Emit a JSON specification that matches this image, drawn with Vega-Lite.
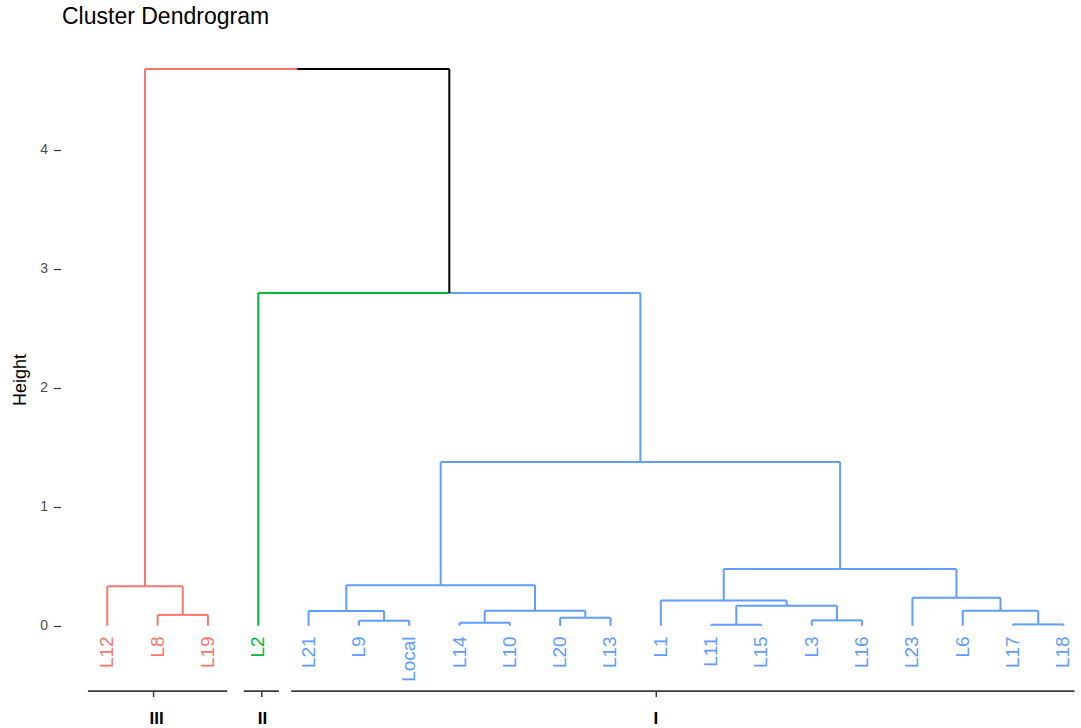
{
  "$schema": "https://vega.github.io/schema/vega-lite/v6.json",
  "autosize": "none",
  "width": 1019,
  "height": 697,
  "padding": {"left": 62, "top": 31, "right": 0, "bottom": 0},
  "background": "white",
  "title": {
    "text": "Cluster Dendrogram",
    "anchor": "start",
    "frame": "group",
    "font": "Liberation Sans",
    "fontSize": 23,
    "fontWeight": "normal",
    "color": "#000000",
    "offset": 2
  },
  "config": {
    "view": {"stroke": null},
    "text": {"font": "Liberation Sans"},
    "axisY": {
      "domain": false,
      "grid": false,
      "offset": 1.5,
      "tickSize": 7,
      "tickColor": "#333333",
      "tickWidth": 1.2,
      "labelFont": "Liberation Sans",
      "labelFontSize": 14,
      "labelColor": "#4D4D4D",
      "labelPadding": 6,
      "titleFont": "Liberation Sans",
      "titleFontSize": 18,
      "titleFontWeight": "normal",
      "titleColor": "#000000",
      "titlePadding": 10
    }
  },
  "datasets": {
    "edges": [
      {"px": 4.7734, "cx": 1.75, "ph": 4.681, "ch": 0.331, "grp": "III"},
      {"px": 1.75, "cx": 1, "ph": 0.331, "ch": 0, "grp": "III"},
      {"px": 1.75, "cx": 2.5, "ph": 0.331, "ch": 0.091, "grp": "III"},
      {"px": 2.5, "cx": 2, "ph": 0.091, "ch": 0, "grp": "III"},
      {"px": 2.5, "cx": 3, "ph": 0.091, "ch": 0, "grp": "III"},
      {"px": 4.7734, "cx": 7.7969, "ph": 4.681, "ch": 2.797, "grp": "root"},
      {"px": 7.7969, "cx": 4, "ph": 2.797, "ch": 0, "grp": "II"},
      {"px": 7.7969, "cx": 11.5938, "ph": 2.797, "ch": 1.376, "grp": "I"},
      {"px": 11.5938, "cx": 7.625, "ph": 1.376, "ch": 0.341, "grp": "I"},
      {"px": 11.5938, "cx": 15.5625, "ph": 1.376, "ch": 0.476, "grp": "I"},
      {"px": 7.625, "cx": 5.75, "ph": 0.341, "ch": 0.123, "grp": "I"},
      {"px": 7.625, "cx": 9.5, "ph": 0.341, "ch": 0.125, "grp": "I"},
      {"px": 5.75, "cx": 5, "ph": 0.123, "ch": 0, "grp": "I"},
      {"px": 5.75, "cx": 6.5, "ph": 0.123, "ch": 0.042, "grp": "I"},
      {"px": 6.5, "cx": 6, "ph": 0.042, "ch": 0, "grp": "I"},
      {"px": 6.5, "cx": 7, "ph": 0.042, "ch": 0, "grp": "I"},
      {"px": 9.5, "cx": 8.5, "ph": 0.125, "ch": 0.025, "grp": "I"},
      {"px": 9.5, "cx": 10.5, "ph": 0.125, "ch": 0.067, "grp": "I"},
      {"px": 8.5, "cx": 8, "ph": 0.025, "ch": 0, "grp": "I"},
      {"px": 8.5, "cx": 9, "ph": 0.025, "ch": 0, "grp": "I"},
      {"px": 10.5, "cx": 10, "ph": 0.067, "ch": 0, "grp": "I"},
      {"px": 10.5, "cx": 11, "ph": 0.067, "ch": 0, "grp": "I"},
      {"px": 15.5625, "cx": 13.25, "ph": 0.476, "ch": 0.213, "grp": "I"},
      {"px": 15.5625, "cx": 17.875, "ph": 0.476, "ch": 0.235, "grp": "I"},
      {"px": 13.25, "cx": 12, "ph": 0.213, "ch": 0, "grp": "I"},
      {"px": 13.25, "cx": 14.5, "ph": 0.213, "ch": 0.168, "grp": "I"},
      {"px": 14.5, "cx": 13.5, "ph": 0.168, "ch": 0.008, "grp": "I"},
      {"px": 14.5, "cx": 15.5, "ph": 0.168, "ch": 0.045, "grp": "I"},
      {"px": 13.5, "cx": 13, "ph": 0.008, "ch": 0, "grp": "I"},
      {"px": 13.5, "cx": 14, "ph": 0.008, "ch": 0, "grp": "I"},
      {"px": 15.5, "cx": 15, "ph": 0.045, "ch": 0, "grp": "I"},
      {"px": 15.5, "cx": 16, "ph": 0.045, "ch": 0, "grp": "I"},
      {"px": 17.875, "cx": 17, "ph": 0.235, "ch": 0, "grp": "I"},
      {"px": 17.875, "cx": 18.75, "ph": 0.235, "ch": 0.126, "grp": "I"},
      {"px": 18.75, "cx": 18, "ph": 0.126, "ch": 0, "grp": "I"},
      {"px": 18.75, "cx": 19.5, "ph": 0.126, "ch": 0.011, "grp": "I"},
      {"px": 19.5, "cx": 19, "ph": 0.011, "ch": 0, "grp": "I"},
      {"px": 19.5, "cx": 20, "ph": 0.011, "ch": 0, "grp": "I"}
    ],
    "leaves": [
      {"label": "L12", "pos": 1, "grp": "III"},
      {"label": "L8", "pos": 2, "grp": "III"},
      {"label": "L19", "pos": 3, "grp": "III"},
      {"label": "L2", "pos": 4, "grp": "II"},
      {"label": "L21", "pos": 5, "grp": "I"},
      {"label": "L9", "pos": 6, "grp": "I"},
      {"label": "Local", "pos": 7, "grp": "I"},
      {"label": "L14", "pos": 8, "grp": "I"},
      {"label": "L10", "pos": 9, "grp": "I"},
      {"label": "L20", "pos": 10, "grp": "I"},
      {"label": "L13", "pos": 11, "grp": "I"},
      {"label": "L1", "pos": 12, "grp": "I"},
      {"label": "L11", "pos": 13, "grp": "I"},
      {"label": "L15", "pos": 14, "grp": "I"},
      {"label": "L3", "pos": 15, "grp": "I"},
      {"label": "L16", "pos": 16, "grp": "I"},
      {"label": "L23", "pos": 17, "grp": "I"},
      {"label": "L6", "pos": 18, "grp": "I"},
      {"label": "L17", "pos": 19, "grp": "I"},
      {"label": "L18", "pos": 20, "grp": "I"}
    ],
    "clusters": [
      {"name": "III", "start": 0.615, "end": 3.384, "tick": 1.92, "mid": 1.98},
      {"name": "II", "start": 3.714, "end": 4.41, "tick": 4.07, "mid": 4.085},
      {"name": "I", "start": 4.656, "end": 20.22, "tick": 11.91, "mid": 11.9}
    ]
  },
  "layer": [
    {
      "data": {"name": "edges"},
      "mark": {"type": "rule", "strokeWidth": 2},
      "encoding": {
        "x": {"field": "px", "type": "quantitative", "scale": {"domain": [0.1, 20.35], "nice": false, "zero": false}, "axis": null},
        "x2": {"field": "cx"},
        "y": {
          "field": "ph", "type": "quantitative", "title": "Height",
          "scale": {"domain": [-0.86, 5.0], "nice": false, "zero": false},
          "axis": {"values": [0, 1, 2, 3, 4], "format": "d"}
        },
        "color": {
          "field": "grp", "type": "nominal", "legend": null,
          "scale": {"domain": ["III", "II", "I", "root"], "range": ["#F8766D", "#00BA38", "#619CFF", "#000000"]}
        }
      }
    },
    {
      "data": {"name": "edges"},
      "mark": {"type": "rule", "strokeWidth": 2},
      "encoding": {
        "x": {"field": "cx", "type": "quantitative", "axis": null},
        "y": {"field": "ch", "type": "quantitative", "title": "Height", "axis": {"values": [0, 1, 2, 3, 4], "format": "d"}},
        "y2": {"field": "ph"},
        "color": {"field": "grp", "type": "nominal", "legend": null}
      }
    },
    {
      "data": {"name": "leaves"},
      "mark": {"type": "text", "angle": -90, "align": "right", "baseline": "middle", "fontSize": 19},
      "encoding": {
        "x": {"field": "pos", "type": "quantitative", "axis": null},
        "y": {"datum": -0.09, "type": "quantitative", "title": "Height", "axis": {"values": [0, 1, 2, 3, 4], "format": "d"}},
        "text": {"field": "label"},
        "color": {"field": "grp", "type": "nominal", "legend": null}
      }
    },
    {
      "data": {"name": "clusters"},
      "mark": {"type": "rule", "color": "#3a3a3a", "strokeWidth": 1.8},
      "encoding": {
        "x": {"field": "start", "type": "quantitative", "axis": null},
        "x2": {"field": "end"},
        "y": {"datum": -0.55, "type": "quantitative", "title": "Height", "axis": {"values": [0, 1, 2, 3, 4], "format": "d"}}
      }
    },
    {
      "data": {"name": "clusters"},
      "mark": {"type": "rule", "color": "#3a3a3a", "strokeWidth": 1.5},
      "encoding": {
        "x": {"field": "tick", "type": "quantitative", "axis": null},
        "y": {"datum": -0.55, "type": "quantitative", "title": "Height", "axis": {"values": [0, 1, 2, 3, 4], "format": "d"}},
        "y2": {"datum": -0.6}
      }
    },
    {
      "data": {"name": "clusters"},
      "mark": {"type": "text", "fontSize": 17, "fontWeight": "bold", "color": "#000000", "baseline": "alphabetic", "align": "center"},
      "encoding": {
        "x": {"field": "mid", "type": "quantitative", "axis": null},
        "y": {"datum": -0.83, "type": "quantitative", "title": "Height", "axis": {"values": [0, 1, 2, 3, 4], "format": "d"}},
        "text": {"field": "name"}
      }
    }
  ]
}
